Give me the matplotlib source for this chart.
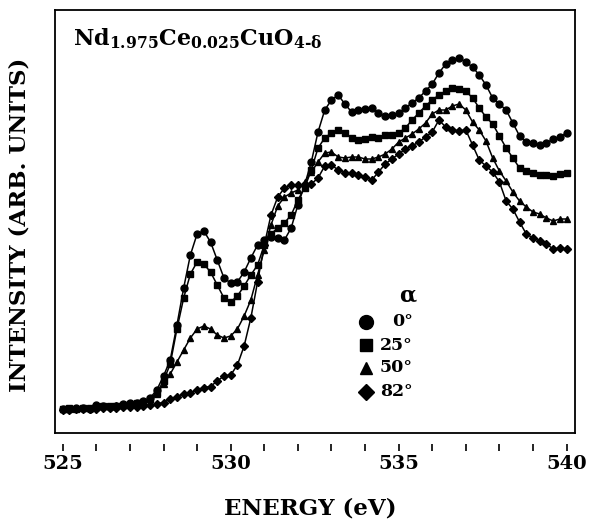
import matplotlib
matplotlib.use('Agg')
import matplotlib.pyplot as plt

plt.rcParams['font.family'] = 'DejaVu Serif'
plt.rcParams['font.weight'] = 'bold'
plt.rcParams['mathtext.fontset'] = 'custom'
plt.rcParams['mathtext.rm'] = 'DejaVu Serif:bold'
plt.rcParams['mathtext.it'] = 'DejaVu Serif:bold'
plt.rcParams['mathtext.bf'] = 'DejaVu Serif:bold'

# photon energy (eV), 0.2 eV steps
energy = [525.0, 525.2, 525.4, 525.6, 525.8, 526.0, 526.2, 526.4, 526.6, 526.8,
          527.0, 527.2, 527.4, 527.6, 527.8, 528.0, 528.2, 528.4, 528.6, 528.8,
          529.0, 529.2, 529.4, 529.6, 529.8, 530.0, 530.2, 530.4, 530.6, 530.8,
          531.0, 531.2, 531.4, 531.6, 531.8, 532.0, 532.2, 532.4, 532.6, 532.8,
          533.0, 533.2, 533.4, 533.6, 533.8, 534.0, 534.2, 534.4, 534.6, 534.8,
          535.0, 535.2, 535.4, 535.6, 535.8, 536.0, 536.2, 536.4, 536.6, 536.8,
          537.0, 537.2, 537.4, 537.6, 537.8, 538.0, 538.2, 538.4, 538.6, 538.8,
          539.0, 539.2, 539.4, 539.6, 539.8, 540.0]

# intensity (arb. units) for each incidence angle alpha
int_0 = [0.24, 0.245, 0.25, 0.25, 0.245, 0.28, 0.27, 0.265, 0.275, 0.29, 0.30, 0.305, 0.32, 0.35, 0.43,
         0.57, 0.73, 1.08, 1.45, 1.78, 1.99, 2.02, 1.91, 1.73, 1.55,
         1.50, 1.51, 1.61, 1.75, 1.88, 1.93, 1.96, 1.95, 1.93, 2.05,
         2.28, 2.48, 2.71, 3.01, 3.23, 3.33, 3.38, 3.29, 3.21, 3.23,
         3.24, 3.25, 3.20, 3.17, 3.18, 3.20, 3.25, 3.30, 3.35, 3.42,
         3.49, 3.60, 3.69, 3.73, 3.75, 3.71, 3.66, 3.58, 3.48, 3.35,
         3.29, 3.23, 3.10, 2.97, 2.91, 2.90, 2.88, 2.90, 2.94, 2.96,
         3.00]
int_25 = [0.24, 0.25, 0.24, 0.25, 0.255, 0.26, 0.27, 0.27, 0.275, 0.28, 0.29, 0.30, 0.315, 0.34, 0.40,
          0.52, 0.69, 1.04, 1.35, 1.59, 1.71, 1.69, 1.61, 1.48, 1.35,
          1.31, 1.37, 1.47, 1.58, 1.68, 1.88, 1.99, 2.05, 2.10, 2.18,
          2.33, 2.45, 2.63, 2.85, 2.95, 3.00, 3.03, 3.00, 2.95, 2.93,
          2.94, 2.96, 2.95, 2.98, 2.98, 3.00, 3.05, 3.13, 3.20, 3.27,
          3.33, 3.38, 3.42, 3.45, 3.44, 3.42, 3.35, 3.25, 3.16, 3.09,
          2.97, 2.85, 2.75, 2.65, 2.62, 2.60, 2.585, 2.58, 2.57, 2.59,
          2.60]
int_50 = [0.24, 0.245, 0.25, 0.25, 0.255, 0.265, 0.27, 0.27, 0.28, 0.285, 0.29, 0.30, 0.31, 0.34, 0.39,
          0.49, 0.59, 0.71, 0.83, 0.95, 1.04, 1.07, 1.04, 0.98, 0.95,
          0.97, 1.04, 1.17, 1.33, 1.58, 1.83, 2.08, 2.27, 2.36, 2.40,
          2.43, 2.51, 2.61, 2.71, 2.80, 2.81, 2.76, 2.75, 2.76, 2.76,
          2.74, 2.74, 2.76, 2.79, 2.84, 2.91, 2.95, 2.99, 3.04, 3.10,
          3.19, 3.23, 3.23, 3.27, 3.29, 3.23, 3.11, 3.03, 2.92, 2.75,
          2.62, 2.52, 2.41, 2.32, 2.26, 2.21, 2.19, 2.15, 2.12, 2.14,
          2.14]
int_82 = [0.23, 0.235, 0.24, 0.24, 0.24, 0.245, 0.25, 0.25, 0.255, 0.26, 0.26, 0.265, 0.27, 0.28, 0.29,
          0.305, 0.34, 0.365, 0.39, 0.405, 0.43, 0.455, 0.465, 0.52, 0.57,
          0.58, 0.68, 0.87, 1.15, 1.51, 1.88, 2.18, 2.36, 2.45, 2.48,
          2.48, 2.48, 2.49, 2.55, 2.67, 2.68, 2.63, 2.60, 2.60, 2.58,
          2.56, 2.53, 2.61, 2.69, 2.74, 2.79, 2.84, 2.87, 2.91, 2.96,
          3.01, 3.13, 3.06, 3.03, 3.02, 3.03, 2.88, 2.73, 2.67, 2.61,
          2.51, 2.32, 2.24, 2.11, 1.99, 1.95, 1.92, 1.89, 1.84, 1.85,
          1.84]

angles = ['0°', '25°', '50°', '82°']
series = [int_0, int_25, int_50, int_82]
markers = ['o', 's', '^', 'D']
msizes = [5, 4, 5, 4]
leg_sizes = [10, 8.5, 9, 8]

fig = plt.figure(figsize=(5.9, 5.23), dpi=100)
ax = fig.add_axes([55/590, 90/523, 520/590, 423/523])

for vals, m, s in zip(series, markers, msizes):
    ax.plot(energy, vals, color='black', lw=1.1, marker=m, ms=s,
            mfc='black', mec='black')

ax.set_xlim(524.77, 540.25)
ax.set_ylim(0, 4.23)
ax.set_yticks([])
ax.set_xticks([525, 530, 535, 540])
ax.set_xticks(range(526, 540), minor=True)
ax.tick_params(axis='x', which='both', direction='out', length=5, width=1.2,
               labelsize=14, pad=3)

for sp in ['top', 'right', 'left']:
    ax.spines[sp].set_linewidth(1.3)
# ticks sit a little below the frame
ax.spines['bottom'].set_position(('outward', 8))
ax.spines['bottom'].set_visible(False)
ax.plot([0, 1], [0, 0], transform=ax.transAxes, color='black', lw=1.3, clip_on=False)

fig.text(73/590, 1 - 45/523, r'Nd$_{1.975}$Ce$_{0.025}$CuO$_{4\text{-}\delta}$',
         fontsize=16, va='baseline', ha='left')

# legend
fig.text(408/590, 1 - 296/523, 'α', fontsize=16, ha='center', va='center')
rows = [322, 345, 368, 392]
for lab, m, s, yy in zip(angles, markers, leg_sizes, rows):
    fig.lines.append(plt.Line2D([366/590], [1 - yy/523], transform=fig.transFigure,
                                marker=m, ms=s, color='black', lw=0))
    fig.text(413/590, 1 - yy/523, lab, fontsize=12.5, ha='right', va='center')

fig.text(310/590, 1 - 508/523, 'ENERGY (eV)', fontsize=16.5, ha='center', va='center')
fig.text(20/590, 1 - 225/523, 'INTENSITY (ARB. UNITS)', fontsize=16.5, rotation=90,
         ha='center', va='center')

fig.savefig('out.png', dpi=100)
